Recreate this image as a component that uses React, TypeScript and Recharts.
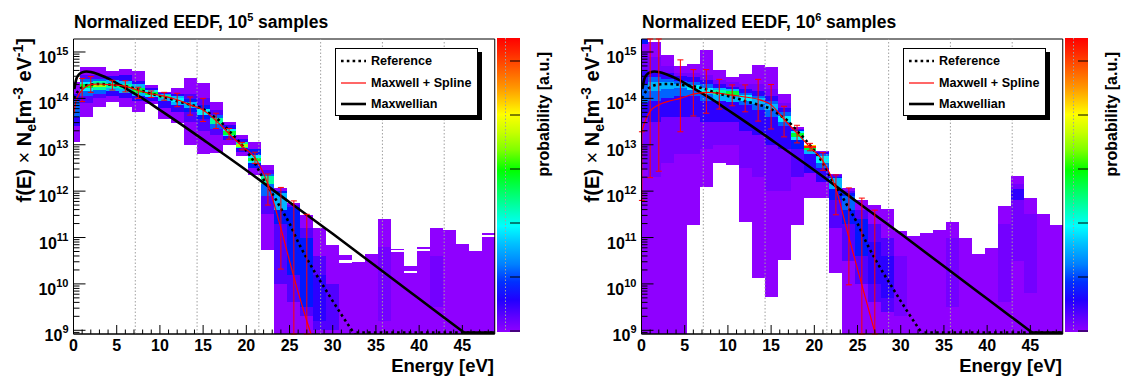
import React from 'react';
import { ComposedChart, XAxis, YAxis, Line, Scatter, ErrorBar, ReferenceArea, ReferenceLine } from 'recharts';

const FONT = '"Liberation Sans", Arial, Helvetica, sans-serif';
const W = 560;
const H = 376;

// axis ranges (y in log10 units)
const Y_LO = 8.92;
const Y_HI = 15.28;
const X_MAX = 48.75;
const HALF_BIN = 0.75;

// energy bin centres of the 2D histogram [eV]
const binCentres = [0, 1.5, 3, 4.5, 6, 7.5, 9, 10.5, 12, 13.5, 15, 16.5, 18, 19.5, 21, 22.5, 24,
  25.5, 27, 28.5, 30, 31.5, 33, 34.5, 36, 37.5, 39, 40.5, 42, 43.5, 45, 46.5, 48];

// colour levels, low -> high probability
const palette = ['#8f00ff', '#7400ff', '#5200ff', '#2c00ff', '#0018ff', '#0064ff', '#00b4ff',
  '#00f0ff', '#00ffa0', '#00ff30', '#a8ff00', '#ffd000', '#ff2000'];

const colourbarStops: [number, string][] = [
  [0, '#ff0000'], [0.05, '#ff2800'], [0.11, '#ff6000'], [0.17, '#ff9800'], [0.22, '#ffd000'],
  [0.26, '#ffff00'], [0.32, '#c8ff00'], [0.38, '#80ff00'], [0.45, '#00ff00'], [0.52, '#00ff60'],
  [0.58, '#00ffb0'], [0.64, '#00ffff'], [0.7, '#00c0ff'], [0.77, '#0080ff'], [0.83, '#0030ff'],
  [0.89, '#2000ff'], [0.95, '#6000ff'], [1, '#9000ff'],
];

const gridE = [7.15, 14.3, 21.45, 28.6, 35.75, 42.9];
const yDecades = [8, 9, 10, 11, 12, 13, 14, 15];
const yMantissas = [1, 2, 3, 4, 5, 6, 7, 8, 9];
const xTickVals = Array.from({ length: 49 }, (_, i) => i);
const legendLabels = ['Reference', 'Maxwell + Spline', 'Maxwellian'];

// reference EEDF (dotted), log10 values
const refE = [0.05, 0.5, 1, 2, 3, 4, 5, 6, 7, 8, 9, 10, 11, 12, 13, 14, 15, 16, 17, 18, 19, 20,
  21, 22, 23, 24, 25, 26, 27, 28, 29, 30, 31, 32, 33, 33.5];
const refLog = [14.0, 14.15, 14.24, 14.3, 14.31, 14.3, 14.28, 14.26, 14.22, 14.16, 14.1, 14.05,
  14.0, 13.94, 13.89, 13.84, 13.77, 13.64, 13.5, 13.3, 13.1, 12.87, 12.6, 12.25, 11.95, 11.63,
  11.3, 10.9, 10.55, 10.23, 9.93, 9.63, 9.34, 9.06, 8.8, 8.68];
// part of the reference curve that runs along the lower frame edge
const refFloorE = [32.75, 48.75];
const refFloorLog = [8.95, 8.95];

// maxwellian fit (thick black)
const maxwE = [0.1, 0.3, 0.6, 1, 1.5, 2, 3, 4, 5, 6, 8, 10, 12, 15, 20, 25, 30, 35, 40, 45, 46];
const maxwLog = [14.2, 14.4, 14.51, 14.56, 14.58, 14.57, 14.51, 14.43, 14.33, 14.22, 14.0, 13.75,
  13.5, 13.11, 12.45, 11.76, 11.08, 10.38, 9.68, 8.98, 8.84];
const maxwFloorE = [45.2, 48.75];
const maxwFloorLog = [8.95, 8.95];

// maxwell + spline, 1e5 samples
const spl5E = [0.02, 0.3, 0.6, 1, 1.5, 2, 3, 4.5, 6, 7.5, 9, 10.5, 12, 13.5, 15, 16.5, 18, 19.5,
  21, 22.5, 24, 25.5, 27, 27.7];
const spl5Log = [13.65, 13.95, 14.08, 14.18, 14.26, 14.3, 14.31, 14.29, 14.26, 14.17, 14.1, 14.05,
  13.97, 13.86, 13.75, 13.52, 13.24, 12.97, 12.72, 12.15, 11.2, 10.15, 9.2, 8.8];

// error bars, 1e5 samples
const err5E = [1, 2, 4.5, 6, 7.5, 9, 10.5, 12, 13.5, 15, 16.5, 18, 19.5, 21, 22.5, 24, 25.5, 27];
const err5Mid = [14.18, 14.3, 14.29, 14.26, 14.17, 14.1, 14.05, 13.97, 13.86, 13.75, 13.52, 13.24,
  12.97, 12.72, 12.15, 11.2, 10.15, 9.2];
const err5Lo = [13.93, 14.13, 14.18, 14.14, 14.0, 14.02, 13.96, 13.82, 13.64, 13.5, 13.35, 13.12,
  12.89, 12.6, 11.7, 10.32, 8.5, 8.5];
const err5Hi = [14.43, 14.47, 14.39, 14.38, 14.24, 14.16, 14.13, 14.11, 14.03, 14.0, 13.68, 13.35,
  13.05, 12.84, 12.37, 12.08, 11.79, 11.5];

// maxwell + spline, 1e6 samples
const spl6E = [0.02, 0.5, 1, 2, 3, 4.5, 6, 7.5, 9, 10.5, 12, 13.5, 15, 16.5, 18, 19.5, 21, 22.5,
  24, 25.5, 27, 27.3];
const spl6Log = [13.28, 13.55, 13.72, 13.86, 13.93, 14.0, 14.09, 14.13, 14.11, 14.07, 14.03, 13.98,
  13.86, 13.55, 13.25, 12.95, 12.65, 12.05, 11.0, 9.98, 8.96, 8.75];

const err6E = [0.05, 1, 2, 4.5, 6, 7.5, 9, 10.5, 12, 13.5, 15, 16.5, 18, 19.5, 21, 22.5, 24, 25.5, 27];
const err6Mid = [13.28, 13.72, 13.86, 14.0, 14.09, 14.13, 14.11, 14.07, 14.03, 13.98, 13.86, 13.55,
  13.25, 12.95, 12.65, 12.0, 11.0, 9.98, 8.96];
const err6Lo = [11.8, 12.29, 12.43, 13.28, 13.62, 13.68, 13.77, 13.84, 13.71, 13.51, 13.34, 13.17,
  13.04, 12.87, 12.45, 11.49, 9.98, 8.5, 8.5];
const err6Hi = [13.28, 15.5, 15.5, 14.83, 14.62, 14.62, 14.41, 14.29, 14.29, 14.41, 14.3, 13.83,
  13.42, 13.03, 12.83, 12.35, 12.07, 11.85, 11.59];

// 2D histogram, per bin: bands [log10 low, log10 high, colour level], outer first
const heat5: number[][][] = [
  [[13.06, 14.35, 0], [13.4, 14.1, 3], [13.6, 13.95, 5]],
  [[13.6, 14.67, 0], [13.9, 14.5, 2], [14.05, 14.42, 5], [14.15, 14.35, 7], [14.22, 14.3, 9]],
  [[13.81, 14.67, 0], [14.0, 14.5, 2], [14.1, 14.42, 5], [14.18, 14.37, 8], [14.24, 14.32, 10]],
  [[13.93, 14.6, 0], [14.05, 14.48, 3], [14.15, 14.4, 6], [14.22, 14.34, 8]],
  [[13.82, 14.63, 0], [14.0, 14.5, 3], [14.12, 14.38, 6], [14.2, 14.3, 8]],
  [[13.71, 14.58, 0], [13.95, 14.38, 3], [14.05, 14.3, 6], [14.12, 14.22, 9]],
  [[13.88, 14.29, 0], [13.95, 14.22, 3], [14.02, 14.17, 7], [14.07, 14.13, 9]],
  [[13.55, 14.14, 0], [13.8, 14.12, 3], [13.95, 14.1, 6], [14.0, 14.07, 8]],
  [[13.46, 14.22, 0], [13.7, 14.1, 3], [13.85, 14.05, 6], [13.92, 14.0, 7]],
  [[12.99, 14.43, 0], [13.5, 14.1, 2], [13.7, 13.98, 4], [13.8, 13.92, 6]],
  [[12.8, 14.34, 0], [13.3, 14.0, 2], [13.55, 13.85, 4], [13.65, 13.78, 7]],
  [[12.83, 13.93, 0], [13.2, 13.75, 2], [13.35, 13.65, 5], [13.45, 13.57, 8]],
  [[12.99, 13.5, 0], [13.1, 13.42, 3], [13.18, 13.35, 7], [13.22, 13.3, 9]],
  [[12.76, 13.21, 0], [12.85, 13.12, 3], [12.92, 13.06, 8], [12.96, 13.02, 10]],
  [[12.35, 13.06, 0], [12.5, 12.9, 4], [12.6, 12.78, 7], [12.65, 12.72, 9]],
  [[10.73, 12.56, 0], [11.5, 12.45, 2], [11.9, 12.38, 5], [12.15, 12.33, 8]],
  [[8.9, 12.06, 0], [10.0, 11.9, 2], [11.3, 12.0, 4], [11.6, 11.95, 6]],
  [[8.9, 11.74, 0], [9.6, 11.7, 2], [10.2, 11.65, 4]],
  [[8.9, 11.48, 0], [9.3, 11.2, 2], [9.5, 11.0, 4]],
  [[8.9, 11.2, 0], [9.0, 10.6, 2], [9.2, 10.2, 3]],
  [[8.9, 10.84, 0], [9.0, 10.0, 2]],
  [[8.9, 10.44, 0], [10.51, 10.62, 0]],
  [[8.9, 10.48, 0]],
  [[8.9, 10.64, 0]],
  [[8.9, 11.41, 0], [9.2, 10.8, 1]],
  [[8.9, 10.69, 0], [10.73, 10.76, 0]],
  [[8.9, 10.24, 0], [10.28, 10.39, 0]],
  [[8.9, 10.71, 0], [10.75, 10.79, 0]],
  [[8.9, 11.2, 0], [9.5, 10.6, 1]],
  [[8.9, 11.16, 0]],
  [[8.9, 10.87, 0]],
  [[8.9, 10.71, 0]],
  [[8.9, 11.02, 0], [11.06, 11.1, 0]],
];

const heat6: number[][][] = [
  [[8.9, 15.2, 0], [12.5, 15.0, 1], [13.6, 14.6, 3], [13.9, 14.3, 5], [15.18, 15.28, 4]],
  [[8.9, 15.22, 0], [12.3, 14.9, 1], [13.5, 14.6, 3], [13.95, 14.45, 5], [14.15, 14.35, 6]],
  [[8.9, 14.93, 0], [12.6, 14.7, 1], [13.6, 14.55, 3], [14.0, 14.42, 5], [14.2, 14.35, 6]],
  [[8.9, 14.7, 0], [12.8, 14.55, 1], [13.6, 14.48, 3], [14.05, 14.38, 5], [14.22, 14.32, 6]],
  [[11.27, 14.75, 0], [12.8, 14.55, 1], [13.6, 14.45, 3], [14.05, 14.35, 5], [14.18, 14.28, 7]],
  [[12.1, 15.04, 0], [12.9, 14.5, 1], [13.5, 14.4, 3], [13.95, 14.3, 5], [14.1, 14.22, 7]],
  [[12.6, 14.61, 0], [13.0, 14.4, 1], [13.5, 14.3, 3], [13.95, 14.22, 6], [14.08, 14.18, 8]],
  [[12.56, 14.47, 0], [13.0, 14.35, 1], [13.5, 14.25, 3], [13.92, 14.2, 6], [14.05, 14.15, 9]],
  [[11.34, 14.52, 0], [12.5, 14.3, 1], [13.3, 14.2, 3], [13.85, 14.12, 5], [13.95, 14.08, 7]],
  [[10.12, 14.72, 0], [12.3, 14.3, 1], [13.2, 14.15, 3], [13.75, 14.05, 5], [13.88, 14.0, 6]],
  [[9.72, 14.67, 0], [12.0, 14.2, 1], [13.0, 14.05, 3], [13.6, 13.95, 5], [13.75, 13.88, 6]],
  [[10.51, 14.09, 0], [12.0, 13.9, 1], [12.9, 13.8, 3], [13.4, 13.7, 5], [13.5, 13.62, 7]],
  [[11.27, 13.39, 0], [12.3, 13.35, 2], [12.9, 13.32, 4], [13.1, 13.3, 7], [13.17, 13.25, 9]],
  [[11.85, 13.0, 0], [12.4, 12.99, 3], [12.8, 13.0, 6], [12.88, 13.0, 9], [12.92, 12.99, 11], [12.94, 12.97, 12]],
  [[11.85, 12.87, 0], [12.2, 12.85, 3], [12.5, 12.8, 5], [12.6, 12.75, 7]],
  [[10.23, 12.37, 0], [11.2, 12.35, 2], [11.8, 12.3, 4], [12.05, 12.28, 6]],
  [[8.9, 12.06, 0], [10.5, 12.0, 2], [11.3, 11.95, 4], [11.6, 11.9, 5]],
  [[8.9, 11.81, 0], [10.0, 11.6, 2], [10.6, 11.4, 4]],
  [[8.9, 11.71, 0], [9.6, 11.3, 2], [10.0, 10.9, 3]],
  [[8.9, 11.62, 0], [9.4, 11.0, 2], [9.7, 10.6, 3]],
  [[8.9, 11.14, 0], [9.3, 10.6, 1]],
  [[8.9, 11.03, 0]],
  [[8.9, 11.09, 0]],
  [[8.9, 11.16, 0]],
  [[8.9, 11.34, 0], [9.5, 11.0, 1]],
  [[8.9, 10.98, 0]],
  [[8.9, 10.64, 0]],
  [[8.9, 10.77, 0]],
  [[8.9, 11.68, 0], [9.6, 11.3, 1]],
  [[8.9, 12.32, 0], [10.5, 12.15, 1], [11.8, 12.05, 3]],
  [[8.9, 11.85, 0], [9.8, 11.5, 1]],
  [[8.9, 11.5, 0]],
  [[8.9, 11.26, 0]],
];

const yTickVals = yDecades
  .flatMap((d) => yMantissas.map((m) => m * 10 ** d))
  .filter((v) => Math.log10(v) >= Y_LO && Math.log10(v) <= Y_HI);

const toPts = (xs: number[], ls: number[]) => xs.map((x, i) => ({ x, y: 10 ** ls[i] }));

function errPts(xs: number[], mid: number[], lo: number[], hi: number[]) {
  return xs.map((x, i) => {
    const c = 10 ** mid[i];
    const l = 10 ** Math.max(lo[i], Y_LO);
    const h = 10 ** Math.min(hi[i], Y_HI);
    return { x, y: c, err: [c - l, h - c] };
  });
}

function heatCells(heat: number[][][]) {
  const cells: { key: string; x1: number; x2: number; y1: number; y2: number; fill: string }[] = [];
  heat.forEach((bands, k) => {
    const c = binCentres[k];
    bands.forEach(([lo, hi, lvl], j) => {
      cells.push({
        key: `${k}-${j}`,
        x1: Math.max(0, c - HALF_BIN),
        x2: Math.min(X_MAX, c + HALF_BIN),
        y1: 10 ** Math.max(lo, Y_LO),
        y2: 10 ** Math.min(hi, Y_HI),
        fill: palette[lvl],
      });
    });
  });
  return cells;
}

function XTick(props: any) {
  const { x, y, payload } = props;
  const v = payload.value;
  const major = v % 5 === 0;
  return (
    <g>
      <line x1={x} x2={x} y1={y} y2={y - (major ? 9 : 4.5)} stroke="#000" strokeWidth={1} />
      {major && (
        <text x={x} y={y + 16.8} textAnchor="middle" fontFamily={FONT} fontWeight="bold" fontSize={16} fill="#000">
          {v}
        </text>
      )}
    </g>
  );
}

function YTick(props: any) {
  const { x, y, payload } = props;
  const l = Math.log10(payload.value);
  const major = Math.abs(l - Math.round(l)) < 1e-6;
  return (
    <g>
      <line x1={x} x2={x + (major ? 12 : 6)} y1={y} y2={y} stroke="#000" strokeWidth={1} />
      {major && (
        <text x={x - 5} y={y + 11} textAnchor="end" fontFamily={FONT} fontWeight="bold" fontSize={16} fill="#000">
          10<tspan dy={-8} fontSize={11}>{Math.round(l)}</tspan>
        </text>
      )}
    </g>
  );
}

interface PanelProps {
  heat: number[][][];
  splE: number[];
  splLog: number[];
  errs: { x: number; y: number; err: number[] }[];
}

const DOTS = '2.6 3.2';

function Panel({ heat, splE, splLog, errs }: PanelProps) {
  const cells = heatCells(heat);
  return (
    <ComposedChart width={W} height={H} margin={{ top: 39, right: 65.25, bottom: 12, left: 13.5 }}>
      {cells.map((c) => (
        <ReferenceArea
          key={c.key}
          x1={c.x1}
          x2={c.x2}
          y1={c.y1}
          y2={c.y2}
          ifOverflow="visible"
          shape={(p: any) => (
            <rect x={p.x} y={p.y} width={p.width} height={p.height} fill={c.fill} shapeRendering="crispEdges" />
          )}
        />
      ))}
      {gridE.map((g) => (
        <ReferenceLine key={g} x={g} stroke="#a0a0a0" strokeDasharray="1.5 2" strokeWidth={1} />
      ))}
      <Line data={toPts(refE, refLog)} dataKey="y" type="monotone" stroke="#000" strokeWidth={2.6}
        strokeDasharray={DOTS} dot={false} activeDot={false} isAnimationActive={false} />
      <Line data={toPts(refFloorE, refFloorLog)} dataKey="y" type="linear" stroke="#000" strokeWidth={2.6}
        strokeDasharray={DOTS} dot={false} activeDot={false} isAnimationActive={false} />
      <Line data={toPts(maxwE, maxwLog)} dataKey="y" type="monotone" stroke="#000" strokeWidth={2.6}
        dot={false} activeDot={false} isAnimationActive={false} />
      <Line data={toPts(maxwFloorE, maxwFloorLog)} dataKey="y" type="linear" stroke="#000" strokeWidth={2.6}
        dot={false} activeDot={false} isAnimationActive={false} />
      <Line data={toPts(splE, splLog)} dataKey="y" type="monotone" stroke="#ff0000" strokeWidth={1.2}
        dot={false} activeDot={false} isAnimationActive={false} />
      <Scatter data={errs} dataKey="y" shape={() => <g />} isAnimationActive={false}>
        <ErrorBar dataKey="err" direction="y" width={3} stroke="#ff0000" strokeWidth={1} isAnimationActive={false} />
      </Scatter>
      <ReferenceArea x1={0} x2={X_MAX} y1={10 ** Y_LO} y2={10 ** Y_HI} fill="none" fillOpacity={0}
        stroke="#000" strokeWidth={1} ifOverflow="visible" />
      <XAxis type="number" dataKey="x" domain={[0, X_MAX]} allowDataOverflow ticks={xTickVals} interval={0}
        tick={<XTick />} tickLine={false} tickSize={0} tickMargin={0} axisLine={{ stroke: '#000' }} height={30} />
      <YAxis type="number" dataKey="y" scale="log" domain={[10 ** Y_LO, 10 ** Y_HI]} allowDataOverflow
        ticks={yTickVals} interval={0} tick={<YTick />} tickLine={false} tickSize={0} tickMargin={0}
        axisLine={{ stroke: '#000' }} width={60} />
    </ComposedChart>
  );
}

function Overlay({ exp }: { exp: string }) {
  const gid = `pal${exp}`;
  return (
    <svg width={W} height={H} style={{ position: 'absolute', left: 0, top: 0, pointerEvents: 'none' }}
      fontFamily={FONT} fontWeight="bold" fill="#000">
      <defs>
        <linearGradient id={gid} x1="0" y1="0" x2="0" y2="1">
          {colourbarStops.map(([o, c]) => (
            <stop key={o} offset={o} stopColor={c} />
          ))}
        </linearGradient>
      </defs>
      <text x={74} y={28} fontSize={17.5}>
        Normalized EEDF, 10<tspan dy={-7} fontSize={11}>{exp}</tspan>
        <tspan dy={7}> samples</tspan>
      </text>
      <text transform="translate(31,38) rotate(-90)" textAnchor="end" fontSize={20}>
        f(E) <tspan fontWeight="normal">×</tspan> N<tspan dy={5} fontSize={14}>e</tspan>
        <tspan dy={-5}>[m</tspan><tspan dy={-8} fontSize={14}>-3</tspan>
        <tspan dy={8}> eV</tspan><tspan dy={-8} fontSize={14}>-1</tspan>
        <tspan dy={8}>]</tspan>
      </text>
      <text x={494} y={371.5} textAnchor="end" fontSize={18.5}>Energy [eV]</text>
      <rect x={497} y={38} width={23} height={294} fill={`url(#${gid})`} />
      <line x1={505.5} x2={505.5} y1={38} y2={332} stroke="#a0a0a0" strokeDasharray="1.5 2" />
      {[0, 1, 2, 3, 4, 5].map((i) => (
        <line key={i} x1={510} x2={520} y1={331 - 54 * i} y2={331 - 54 * i} stroke="#000" strokeWidth={1} />
      ))}
      <text transform="translate(549,52) rotate(-90)" textAnchor="end" fontSize={16}>probability [a.u.]</text>
    </svg>
  );
}

function LegendBox() {
  const samples = [
    <line x1={0} x2={25} y1={4} y2={4} stroke="#000" strokeWidth={2.6} strokeDasharray={DOTS} />,
    <line x1={0} x2={25} y1={4} y2={4} stroke="#ff0000" strokeWidth={1.2} />,
    <line x1={0} x2={25} y1={4} y2={4} stroke="#000" strokeWidth={2.6} />,
  ];
  const rowMids = [12, 34, 55];
  return (
    <div style={{
      position: 'absolute', left: 335, top: 48, width: 141, height: 66, border: '1px solid #000',
      boxShadow: '4px 4px 0 #000', background: '#fff', fontFamily: FONT, fontWeight: 'bold', fontSize: 12.6,
    }}>
      {legendLabels.map((label, i) => (
        <div key={label} style={{ position: 'absolute', left: 5, top: rowMids[i] - 8, height: 16, display: 'flex', alignItems: 'center', whiteSpace: 'nowrap' }}>
          <svg width={25} height={8} style={{ marginRight: 5 }}>{samples[i]}</svg>
          <span>{label}</span>
        </div>
      ))}
    </div>
  );
}

export default function App() {
  return (
    <div style={{ position: 'absolute', left: 0, top: 0, width: 1121, height: 376, background: '#fff', overflow: 'hidden' }}>
      <div style={{ position: 'absolute', left: 0, top: 0, width: W, height: H }}>
        <Panel heat={heat5} splE={spl5E} splLog={spl5Log} errs={errPts(err5E, err5Mid, err5Lo, err5Hi)} />
        <Overlay exp="5" />
        <LegendBox />
      </div>
      <div style={{ position: 'absolute', left: 568, top: 0, width: W, height: H }}>
        <Panel heat={heat6} splE={spl6E} splLog={spl6Log} errs={errPts(err6E, err6Mid, err6Lo, err6Hi)} />
        <Overlay exp="6" />
        <LegendBox />
      </div>
    </div>
  );
}
